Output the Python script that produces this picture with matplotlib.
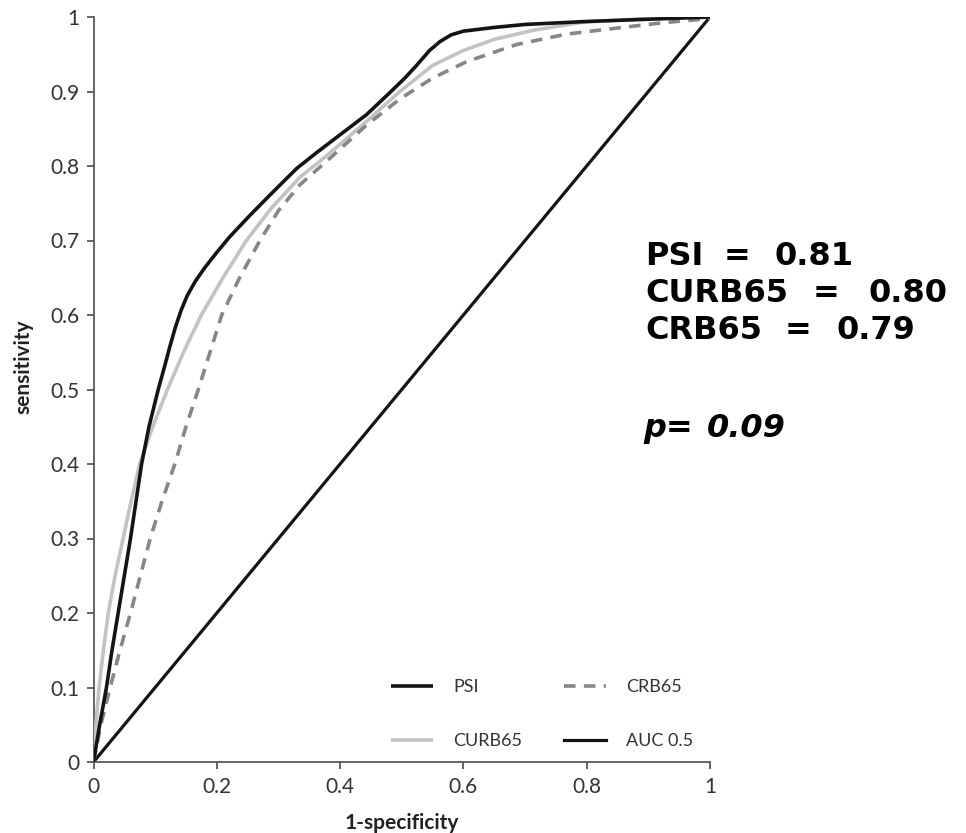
import matplotlib
matplotlib.use("Agg")
import matplotlib.pyplot as plt
from matplotlib.ticker import FuncFormatter

# ROC curves
psi_x = [0, 0.01, 0.021, 0.03, 0.04, 0.05, 0.06, 0.069, 0.078, 0.09, 0.105, 0.115, 0.124,
         0.133, 0.142, 0.152, 0.165, 0.18, 0.20, 0.221, 0.254, 0.291, 0.33, 0.362, 0.40,
         0.443, 0.48, 0.505, 0.524, 0.545, 0.562, 0.58, 0.60, 0.65, 0.70, 0.80, 0.90, 1.0]
psi_y = [0, 0.05, 0.10, 0.15, 0.20, 0.25, 0.30, 0.35, 0.40, 0.45, 0.50, 0.53, 0.558,
         0.584, 0.606, 0.626, 0.645, 0.663, 0.684, 0.705, 0.734, 0.765, 0.797, 0.818, 0.842,
         0.869, 0.898, 0.918, 0.935, 0.955, 0.967, 0.976, 0.981, 0.986, 0.99, 0.994, 0.997, 1.0]

curb_x = [0, 0.004, 0.009, 0.016, 0.024, 0.035, 0.048, 0.061, 0.075, 0.096, 0.12, 0.146,
          0.175, 0.21, 0.248, 0.29, 0.335, 0.38, 0.443, 0.497, 0.55, 0.60, 0.65, 0.712,
          0.794, 0.90, 1.0]
curb_y = [0, 0.05, 0.10, 0.15, 0.20, 0.25, 0.30, 0.35, 0.40, 0.45, 0.50, 0.55,
          0.60, 0.65, 0.70, 0.745, 0.785, 0.815, 0.86, 0.90, 0.935, 0.955, 0.97, 0.982,
          0.993, 0.998, 1.0]

crb_x = [0, 0.012, 0.027, 0.043, 0.06, 0.076, 0.092, 0.111, 0.132, 0.15, 0.17, 0.189,
         0.208, 0.237, 0.27, 0.30, 0.335, 0.383, 0.443, 0.497, 0.55, 0.605, 0.686, 0.767,
         0.848, 0.92, 1.0]
crb_y = [0, 0.05, 0.10, 0.15, 0.20, 0.25, 0.30, 0.35, 0.40, 0.45, 0.50, 0.55,
         0.60, 0.65, 0.70, 0.74, 0.775, 0.81, 0.855, 0.89, 0.918, 0.94, 0.963, 0.977,
         0.985, 0.992, 0.998]

ref_x = [0, 1]
ref_y = [0, 1]

labels = ["PSI", "CURB65", "CRB65", "AUC 0.5"]
auc_names = ["PSI", "CURB65", "CRB65"]
auc_values = ["0.81", "0.80", "0.79"]
p_label = "p="
p_value = "0.09"
x_ticks = [0, 0.2, 0.4, 0.6, 0.8, 1.0]
y_ticks = [0, 0.1, 0.2, 0.3, 0.4, 0.5, 0.6, 0.7, 0.8, 0.9, 1.0]

W, H = 966, 833
fig = plt.figure(figsize=(W / 100, H / 100), dpi=100)
ax = fig.add_axes([93.5 / W, 1 - 762 / H, (710 - 93.5) / W, (762 - 17) / H])

l_psi, = ax.plot(psi_x, psi_y, color="#141414", lw=2.6, solid_capstyle="butt",
                 solid_joinstyle="round", zorder=4)
l_curb, = ax.plot(curb_x, curb_y, color="#c3c3c3", lw=2.6, solid_capstyle="butt",
                  solid_joinstyle="round", zorder=3)
l_crb, = ax.plot(crb_x, crb_y, color="#878787", lw=2.6, dashes=(3.2, 2.3), zorder=3)
l_ref, = ax.plot(ref_x, ref_y, color="#141414", lw=2.3, zorder=2)

ax.set_xlim(0, 1)
ax.set_ylim(0, 1)
ax.set_xticks(x_ticks)
ax.set_yticks(y_ticks)
fmt = FuncFormatter(lambda v, pos: "%g" % round(v, 2))
ax.xaxis.set_major_formatter(fmt)
ax.yaxis.set_major_formatter(fmt)

for s in ["top", "right"]:
    ax.spines[s].set_visible(False)
for s in ["left", "bottom"]:
    ax.spines[s].set_color("#595959")
    ax.spines[s].set_linewidth(1.3)

ax.tick_params(axis="both", direction="out", length=5, width=1.3, color="#595959",
               labelcolor="#333333", labelsize=15)
ax.tick_params(axis="x", pad=6)
ax.tick_params(axis="y", pad=5)
for lab in ax.get_xticklabels() + ax.get_yticklabels():
    lab.set_family("Lato")

ax.set_xlabel("1-specificity", family="Lato", fontweight="bold", fontsize=15, color="#222222")
ax.set_ylabel("sensitivity", family="Lato", fontweight="bold", fontsize=15, color="#222222")
ax.xaxis.set_label_coords(0.5, -0.068)
ax.yaxis.set_label_coords(-0.098, 0.53)

leg = ax.legend([l_psi, l_curb, l_crb, l_ref], labels, ncol=2, frameon=False,
                loc="upper left", bbox_to_anchor=(391 / W, 1 - 679 / H),
                bbox_transform=fig.transFigure, borderpad=0, borderaxespad=0,
                handlelength=2.35, handletextpad=1.1, labelspacing=2.13,
                columnspacing=2.3, prop={"family": "Lato", "size": 13})
for t in leg.get_texts():
    t.set_color("#333333")

ys = [265, 302, 339]
eq_x = [724, 813, 785]
val_x = [774, 869, 837]
big = dict(fontsize=23, fontweight="bold", family="DejaVu Sans", va="baseline",
           ha="left", color="black")
for name, val, yp, ex, vx in zip(auc_names, auc_values, ys, eq_x, val_x):
    fig.text(645 / W, 1 - yp / H, name, **big)
    fig.text(ex / W, 1 - yp / H, "=", **big)
    fig.text(vx / W, 1 - yp / H, val, **big)
fig.text(643 / W, 1 - 437 / H, p_label, style="italic", **big)
fig.text(707 / W, 1 - 437 / H, p_value, style="italic", **big)

fig.savefig("out.png", dpi=100)
